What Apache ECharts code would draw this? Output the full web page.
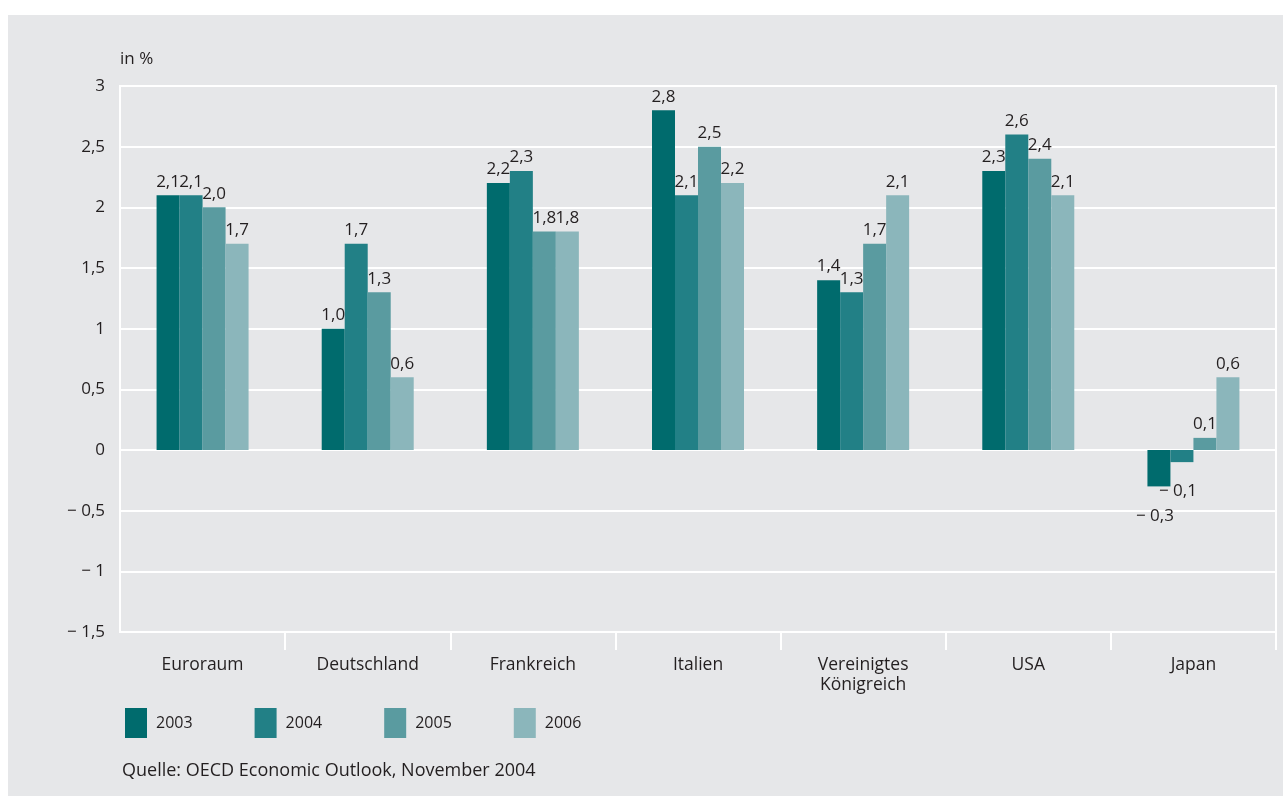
<!DOCTYPE html>
<html>
<head>
<meta charset="utf-8">
<script src="https://cdn.jsdelivr.net/npm/echarts@6/dist/echarts.min.js"></script>
<style>
  html, body { margin: 0; padding: 0; background: #ffffff; }
  #panel { position: absolute; left: 8px; top: 15px; width: 1275px; height: 781px; background: #e6e7e9; }
  #chart { position: absolute; left: 0; top: 0; width: 1283px; height: 796px; }
</style>
</head>
<body>
<div id="panel"></div>
<div id="chart"></div>
<script>
// Countries on the category axis
const countries = ['Euroraum', 'Deutschland', 'Frankreich', 'Italien', 'Vereinigtes\nKönigreich', 'USA', 'Japan'];
// Years shown as series
const years = ['2003', '2004', '2005', '2006'];
// Growth rates in % per year, one value per country
const v2003 = [2.1, 1.0, 2.2, 2.8, 1.4, 2.3, -0.3];
const v2004 = [2.1, 1.7, 2.3, 2.1, 1.3, 2.6, -0.1];
const v2005 = [2.0, 1.3, 1.8, 2.5, 1.7, 2.4, 0.1];
const v2006 = [1.7, 0.6, 1.8, 2.2, 2.1, 2.1, 0.6];
const colors = ['#006b6d', '#228086', '#5a9ba0', '#8bb6bb'];

const FONT = '"Open Sans", sans-serif';
const TEXT = '#231f20';

function fmt(v, digits) {
  const s = Math.abs(v).toFixed(digits).replace('.', ',');
  return v < 0 ? '\u2212 ' + s : s;
}
function fmtAxis(v) {
  if (v === 0) return '0';
  const a = Math.abs(v);
  const s = (Number.isInteger(a) ? String(a) : a.toFixed(1)).replace('.', ',');
  return v < 0 ? '\u2212 ' + s : s;
}

const seriesValues = [v2003, v2004, v2005, v2006];

const chart = echarts.init(document.getElementById('chart'), null, { renderer: 'canvas' });
chart.setOption({
  backgroundColor: 'transparent',
  animation: false,
  textStyle: { fontFamily: FONT, color: TEXT },
  grid: {
    left: 120, right: 7, top: 86, bottom: 164,
    show: true, borderColor: '#ffffff', borderWidth: 2,
    backgroundColor: 'transparent'
  },
  legend: {
    left: 125, top: 708, padding: 0,
    itemWidth: 22, itemHeight: 30, itemGap: 62,
    icon: 'rect',
    data: years,
    textStyle: { fontFamily: FONT, fontSize: 16, color: TEXT, padding: [0, 0, 0, 4] }
  },
  graphic: [{
    type: 'text', left: 122, top: 762,
    style: { text: 'Quelle: OECD Economic Outlook, November 2004', font: '18px ' + FONT, fill: TEXT }
  }],
  xAxis: {
    type: 'category',
    data: countries,
    axisLine: { show: true, onZero: false, lineStyle: { color: '#ffffff', width: 2 } },
    axisTick: { show: true, length: 18, lineStyle: { color: '#ffffff', width: 2 },
      interval: function (i) { return i !== 0; } },
    axisLabel: { fontFamily: FONT, fontSize: 17.5, color: TEXT, margin: 23, lineHeight: 20 },
    splitLine: { show: false }
  },
  yAxis: {
    type: 'value',
    min: -1.5, max: 3, interval: 0.5,
    name: 'in %',
    nameLocation: 'end',
    nameGap: 18,
    nameTextStyle: { fontFamily: FONT, fontSize: 17, color: TEXT, align: 'left' },
    axisLine: { show: true, lineStyle: { color: '#ffffff', width: 2 } },
    axisTick: { show: false },
    axisLabel: { fontFamily: FONT, fontSize: 17, color: TEXT, margin: 15, formatter: fmtAxis },
    splitLine: { show: true, lineStyle: { color: '#ffffff', width: 2 } }
  },
  series: years.map((y, i) => ({
    name: y,
    type: 'bar',
    data: seriesValues[i].map(v => ({
      value: v,
      label: v < 0
        ? { position: 'bottom', distance: 21, offset: [-4, 0] }
        : { position: 'top', distance: 5 }
    })),
    barWidth: 23,
    barGap: '0%',
    itemStyle: { color: colors[i] },
    label: {
      show: true,
      fontFamily: FONT, fontSize: 17, color: TEXT,
      formatter: p => fmt(p.value, 1)
    }
  }))
});
</script>
</body>
</html>
